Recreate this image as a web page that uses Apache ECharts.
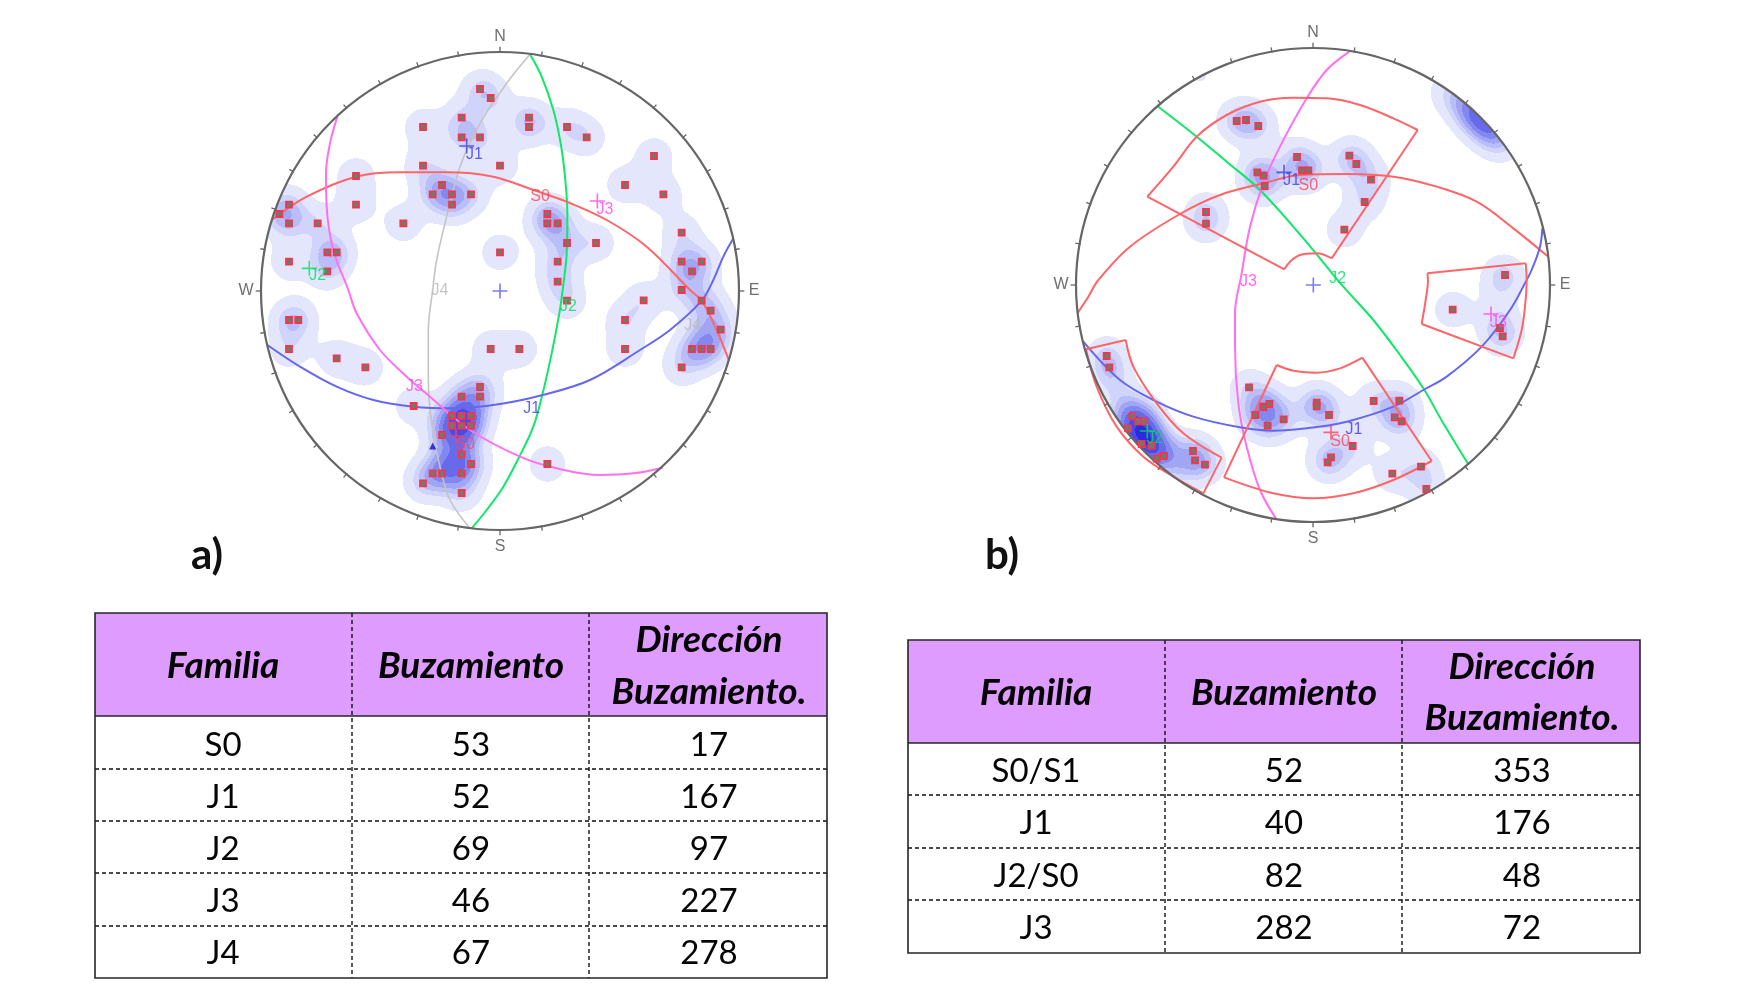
<!DOCTYPE html>
<html><head><meta charset="utf-8">
<script src="https://cdn.jsdelivr.net/npm/echarts@6/dist/echarts.min.js"></script>
<style>html,body{margin:0;background:#fff}#c{width:1750px;height:1000px}</style>
</head><body><div id="c"></div>
<script>
// Stereonet values: [East, North] on a net whose outer circle is at 717 (a) or 711 (b)
const polesA = [[-60,606],[-28,579],[-115,520],[-231,492],[-115,461],[-60,461],[87,520],[87,492],[201,492],[260,461],[-231,376],[0,376],[462,405],[375,318],[490,290],[-174,318],[-202,290],[-144,290],[-87,290],[-144,259],[-290,203],[-432,345],[-432,259],[-633,259],[-662,231],[-633,203],[-547,203],[-518,116],[-490,116],[-633,88],[-518,59],[142,231],[142,203],[173,203],[201,144],[288,144],[0,116],[173,88],[173,28],[545,175],[545,88],[605,88],[576,59],[545,3],[201,-29],[431,-28],[375,-87],[375,-174],[605,-29],[632,-59],[662,-116],[576,-174],[605,-174],[632,-174],[545,-229],[-633,-87],[-605,-87],[-633,-174],[-490,-202],[-404,-229],[-28,-174],[58,-174],[-60,-288],[-115,-317],[-60,-317],[-259,-345],[-144,-375],[-115,-375],[-87,-375],[-144,-404],[-115,-404],[-87,-404],[-174,-432],[-115,-490],[-87,-519],[-202,-547],[-174,-547],[-115,-547],[-231,-577],[-115,-606],[142,-519]];
const polesB = [[-229,492],[-201,495],[-164,477],[-48,384],[109,388],[130,363],[174,316],[155,249],[94,166],[-167,338],[-148,328],[-145,297],[-33,344],[-14,344],[-321,219],[-321,184],[576,30],[419,-74],[561,-129],[569,-154],[-619,-213],[-611,-247],[-192,-307],[-131,-357],[-149,-366],[-173,-390],[-136,-422],[-88,-403],[11,-353],[11,-364],[48,-390],[182,-348],[259,-347],[245,-397],[266,-409],[119,-483],[54,-517],[44,-532],[324,-545],[238,-566],[340,-612],[-542,-394],[-524,-409],[-506,-409],[-555,-430],[-514,-477],[-484,-482],[-469,-521],[-447,-513],[-360,-498],[-354,-526],[-324,-539]];
const densityExtraA = [[-130,-440,1],[-150,-520,1.5],[620,-127,.8]];
const densityExtraB = [[407,582,.9],[456,545,1.6],[495,510,2.6],[530,475,2.6],[565,430,1.2],[-339,630,.5],[-509,-455,2.5],[-459,-485,.8],[-600,-300,.8],[-559,-365,1],[-400,-560,.7],[561,15,.6],[555,-60,.5]];

const circleJ2A = [[90,710],[125,643],[160,543],[182,443],[195,343],[202,233],[200,113],[188,3],[178,-67],[155,-187],[128,-307],[100,-407],[58,-497],[10,-587],[-40,-657],[-85,-712]];
const circleJ4A = [[90,710],[20,623],[-60,503],[-120,373],[-160,223],[-190,93],[-202,3],[-215,-117],[-215,-267],[-205,-397],[-180,-527],[-150,-627],[-90,-712]];
const circleS0A = [[-685,213],[-580,283],[-432,343],[-300,356],[-160,356],[-20,343],[100,303],[200,268],[320,213],[440,133],[570,3],[605,-29],[650,-117],[687,-209]];
const circleJ1A = [[700,158],[670,103],[640,33],[605,-29],[510,-117],[420,-177],[270,-267],[128,-312],[0,-339],[-140,-352],[-260,-347],[-380,-327],[-490,-287],[-600,-227],[-698,-162]];
const circleJ3A = [[-488,523],[-510,443],[-522,353],[-520,253],[-500,123],[-455,3],[-430,-67],[-360,-177],[-280,-257],[-210,-317],[-90,-417],[60,-497],[170,-532],[300,-552],[400,-547],[488,-530]];

const circleJ2B = [[-467,537],[-349,445],[-259,370],[-159,285],[-29,140],[41,55],[91,-5],[181,-105],[261,-210],[331,-310],[391,-415],[464,-535]];
const circleJ3B = [[109,700],[41,645],[-19,560],[-99,415],[-149,305],[-189,175],[-214,35],[-234,-85],[-234,-185],[-224,-355],[-199,-485],[-159,-615],[-111,-701]];
const circleS0B = [[-707,-85],[-674,-35],[-644,15],[-549,115],[-399,213],[-279,270],[-149,305],[-39,330],[101,333],[241,325],[371,295],[491,250],[601,170],[703,87]];
const circleJ1B = [[688,170],[681,115],[656,45],[641,15],[591,-75],[506,-185],[401,-275],[331,-315],[241,-365],[101,-410],[-19,-430],[-119,-437],[-219,-427],[-359,-395],[-469,-350],[-579,-285],[-689,-170]];
// Selection windows of net b, edge by edge
const windowEdgesB = [
 [[-497,265],[-419,355],[-349,445],[-259,510],[-159,550],[-59,562],[41,560],[141,540],[241,500],[314,465]],
 [[314,465],[56,80]],
 [[56,80],[11,95],[-39,90],[-69,70],[-86,47]],
 [[-86,47],[-497,265]],
 [[343,35],[638,65]],
 [[638,65],[641,15],[636,-65],[626,-135],[601,-220]],
 [[601,-220],[326,-117]],
 [[326,-117],[338,-45],[345,15],[343,35]],
 [[-681,-193],[-562,-165]],
 [[-562,-165],[-539,-245],[-469,-355],[-389,-445],[-274,-518]],
 [[-274,-518],[-329,-625]],
 [[-329,-625],[-419,-575],[-509,-515],[-589,-425],[-649,-305],[-681,-193]],
 [[-109,-240],[-59,-257],[11,-263],[81,-250],[148,-218]],
 [[148,-218],[356,-528]],
 [[356,-528],[241,-585],[121,-625],[1,-640],[-119,-625],[-267,-577]],
 [[-267,-577],[-109,-240]]
];
const crossesA = [['J1',-100,435],['S0',-132,-435],['J3',292,270],['J2',-572,68],['C',0,0]];
const crossesB = [['J1',-87,338],['J3',534,-87],['S0',54,-442],['J2',-497,-438],['C',1,0]];
const labelsA = [['J1',-77,408],['S0',120,283],['J3',315,243],['J2',-547,45],['J2',205,-47],['J4',-180,1],['J4',578,-105],['J1',95,-352],['J3',-257,-287],['S0',-105,-462]];
const labelsB = [['J1',-64,313],['S0',-14,298],['J2',74,18],['J3',-194,10],['J3',556,-113],['S0',81,-469],['J1',123,-434],['J2',-474,-462]];
const trianglesA = [[-202,-465]];
const tickBearings = [0,10,20,30,40,50,60,70,80,90,100,110,120,130,140,150,160,170,180,190,200,210,220,230,240,250,260,270,280,290,300,310,320,330,340,350];
const cardinals = [['N',0],['E',90],['S',180],['W',270]];

const tableHeadA = ['Familia','Buzamiento',['Dirección','Buzamiento.']];
const tableRowsA = [['S0','53','17'],['J1','52','167'],['J2','69','97'],['J3','46','227'],['J4','67','278']];
const tableRowsB = [['S0/S1','52','353'],['J1','40','176'],['J2/S0','82','48'],['J3','282','72']];

const familyColor = {S0:'#FF4455',J1:'#3A3AF0',J2:'#00E060',J3:'#FF44EE',J4:'#B8B8B8',C:'#5A5AEE'};
const lineColor = {S0:'#FF6468',J1:'#6666F0',J2:'#10E868',J3:'#FF70F0',J4:'#C4C4C4'};
const densityColors = ['#E4E7FC','#D0D4FA','#B9BEF8','#A0A5F4','#8388F0','#666AEB','#484BE5','#2A2DDE','#0C0ED8'];
const densityLevels = [0.45,1.25,1.8,2.4,3.1,3.9,4.9,6,7.5];
const SIGMA = 42;
const FONT = 'Lato';

function densityRuns(R, poles, extra){
  const src = poles.map(p=>[p[0],p[1],1]).concat(extra), runs=[], k=1/(2*SIGMA*SIGMA), cut=(3.6*SIGMA)**2;
  for(let y=R-1.5;y>-R;y-=3){
    let start=null,cur=-1,x;
    for(x=-R+1.5;x<R;x+=3){
      let lev=-1;
      if(x*x+y*y<R*R){
        let s=0;
        for(const p of src){const dx=x-p[0],dy=y-p[1],d=dx*dx+dy*dy;if(d<cut)s+=p[2]*Math.exp(-d*k);}
        for(let i=densityLevels.length-1;i>=0;i--){if(s>=densityLevels[i]){lev=i;break;}}
      }
      if(lev!==cur){
        if(cur>=0)runs.push([start,y,x-1.5,cur]);
        start=x-1.5;cur=lev;
      }
    }
    if(cur>=0)runs.push([start,y,x-1.5,cur]);
  }
  return runs;
}

function netSeries(g,R,poles,extra,circles,crosses,labels){
  const base={xAxisIndex:g,yAxisIndex:g,silent:true,animation:false};
  const s=[];
  s.push(Object.assign({type:'custom',z:1,clip:false,progressive:0,data:densityRuns(R,poles,extra),
    encode:{x:0,y:1},
    renderItem(p,api){
      const a=api.coord([api.value(0),api.value(1)]),b=api.coord([api.value(2),api.value(1)]);
      return {type:'rect',shape:{x:Math.round(a[0]),y:Math.floor(a[1]),width:Math.round(b[0])-Math.round(a[0]),height:1},
        style:{fill:densityColors[api.value(3)]}};
    }},base));
  circles.forEach(c=>s.push(Object.assign({type:'line',z:3,smooth:0.35,showSymbol:false,clip:false,data:c[1],
    lineStyle:{color:lineColor[c[0]],width:c[0]==='J4'?1.6:2}},base)));
  s.push(Object.assign({type:'custom',z:4,clip:false,data:[[0,0]],encode:{x:0,y:1},
    renderItem(p,api){
      const c=api.coord([0,0]),e=api.coord([R,0]);
      return {type:'circle',shape:{cx:c[0],cy:c[1],r:e[0]-c[0]},style:{fill:'none',stroke:'#666',lineWidth:2.2}};
    }},base));
  s.push(Object.assign({type:'custom',z:4,clip:false,data:tickBearings.map(b=>[b]),encode:{x:0},
    renderItem(p,api){
      const b=api.value(0)*Math.PI/180,long=api.value(0)%90===0;
      const a=api.coord([(R-3)*Math.sin(b),(R-3)*Math.cos(b)]),
            z=api.coord([(R+(long?16:13))*Math.sin(b),(R+(long?16:13))*Math.cos(b)]);
      return {type:'line',shape:{x1:a[0],y1:a[1],x2:z[0],y2:z[1]},style:{stroke:'#666',lineWidth:1.3}};
    }},base));
  s.push(Object.assign({type:'scatter',z:5,clip:false,symbol:'rect',symbolSize:6,data:poles,
    itemStyle:{color:'#64806C',borderColor:'#F8344C',borderWidth:1.8,opacity:1}},base));
  s.push(Object.assign({type:'scatter',z:6,clip:false,symbol:'path://M50 0V100M0 50H100',symbolSize:15,
    data:crosses.map(c=>({value:[c[1],c[2]],itemStyle:{color:'none',borderColor:familyColor[c[0]],borderWidth:1.6}}))},base));
  s.push(Object.assign({type:'scatter',z:7,clip:false,symbolSize:0,
    data:labels.map(l=>({value:[l[1],l[2]],name:l[0],label:{color:familyColor[l[0]]}})),
    label:{show:true,position:'inside',formatter:'{b}',fontFamily:'Liberation Sans',fontSize:16}},base));
  s.push(Object.assign({type:'scatter',z:7,clip:false,symbolSize:0,
    data:cardinals.map(c=>{const b=c[1]*Math.PI/180,r=R+(c[1]===0?47:c[1]===180?51:45);return {value:[r*Math.sin(b),r*Math.cos(b)],name:c[0]};}),
    label:{show:true,position:'inside',formatter:'{b}',fontFamily:'Liberation Sans',fontSize:16,color:'#4A4A4A'}},base));
  return s;
}

function tableGraphic(box,head,rows,cols,colX,headY,rowY,lineY){
  const el=[],L=colX;
  el.push({type:'rect',shape:{x:cols[0],y:box[0],width:cols[3]-cols[0],height:box[1]-box[0]},style:{fill:'#DF9CFF'},z:1});
  const hline=(y,dash,w)=>el.push({type:'line',shape:{x1:cols[0],y1:y,x2:cols[3],y2:y},style:{stroke:dash?'#111':'#262626',lineWidth:w,lineDash:dash?[4,3]:null},z:2});
  lineY.forEach(y=>hline(y,true,1.4));
  [1,2].forEach(i=>el.push({type:'line',shape:{x1:cols[i],y1:box[0],x2:cols[i],y2:box[2]},style:{stroke:'#111',lineWidth:1.4,lineDash:[4,3]},z:2}));
  hline(box[1],false,1.6);
  el.push({type:'rect',shape:{x:cols[0],y:box[0],width:cols[3]-cols[0],height:box[2]-box[0]},style:{fill:'none',stroke:'#262626',lineWidth:1.6},z:3});
  const text=(t,x,y,bold)=>el.push({type:'text',z:4,style:{text:t,x,y,textAlign:'center',textVerticalAlign:'middle',fill:'#050505',
     fontFamily:FONT,fontSize:bold?37:33,fontWeight:bold?'bold':'normal',fontStyle:bold?'italic':'normal'}});
  text(head[0],L[0],headY[1],true);
  text(head[1],L[1],headY[1],true);
  text(head[2][0],L[2],headY[0],true);
  text(head[2][1],L[2],headY[2],true);
  rows.forEach((r,i)=>r.forEach((t,j)=>text(t,L[j],rowY[i],false)));
  return el;
}

const graphicEls = [].concat(
  tableGraphic([613,716,978],tableHeadA,tableRowsA,[95,352,589,827],[223,471,709],[640,666,692],[745,797,849,901,953],[769,821,873,926]),
  tableGraphic([640,743,953],tableHeadA,tableRowsB,[908,1165,1402,1640],[1036,1284,1522],[667,693,718],[771,823,876,928],[795,848,900]),
  [{type:'text',z:4,style:{text:'a)',x:207,y:555,textAlign:'center',textVerticalAlign:'middle',fill:'#111',fontFamily:FONT,fontWeight:'bold',fontSize:42}},
   {type:'text',z:4,style:{text:'b)',x:1002,y:555,textAlign:'center',textVerticalAlign:'middle',fill:'#111',fontFamily:FONT,fontWeight:'bold',fontSize:42}}]
);

const axisOpt=(i,R)=>({gridIndex:i,type:'value',min:-R,max:R,show:false});
const seriesA = netSeries(0,717,polesA,densityExtraA,
  [['J2',circleJ2A],['J4',circleJ4A],['S0',circleS0A],['J1',circleJ1A],['J3',circleJ3A]],crossesA,labelsA);
seriesA.push({type:'scatter',xAxisIndex:0,yAxisIndex:0,z:6,silent:true,animation:false,symbol:'triangle',symbolSize:7,data:trianglesA,itemStyle:{color:'#0A0AD0'}});
const seriesB = netSeries(1,711,polesB,densityExtraB,
  [['J2',circleJ2B],['J3',circleJ3B],['S0',circleS0B],['J1',circleJ1B]],crossesB,labelsB);
windowEdgesB.forEach(e=>seriesB.push({type:'line',xAxisIndex:1,yAxisIndex:1,z:3,silent:true,animation:false,smooth:e.length>2?0.35:false,showSymbol:false,clip:false,data:e,lineStyle:{color:'#FF6468',width:2}}));

const chart = echarts.init(document.getElementById('c'),null,{renderer:'canvas'});
chart.setOption({
  backgroundColor:'#fff',animation:false,
  grid:[{left:261,top:52,width:478,height:478},{left:1076,top:48,width:474,height:474}],
  xAxis:[axisOpt(0,717),axisOpt(1,711)],
  yAxis:[axisOpt(0,717),axisOpt(1,711)],
  series:seriesA.concat(seriesB),
  graphic:{elements:graphicEls}
});
</script></body></html>
